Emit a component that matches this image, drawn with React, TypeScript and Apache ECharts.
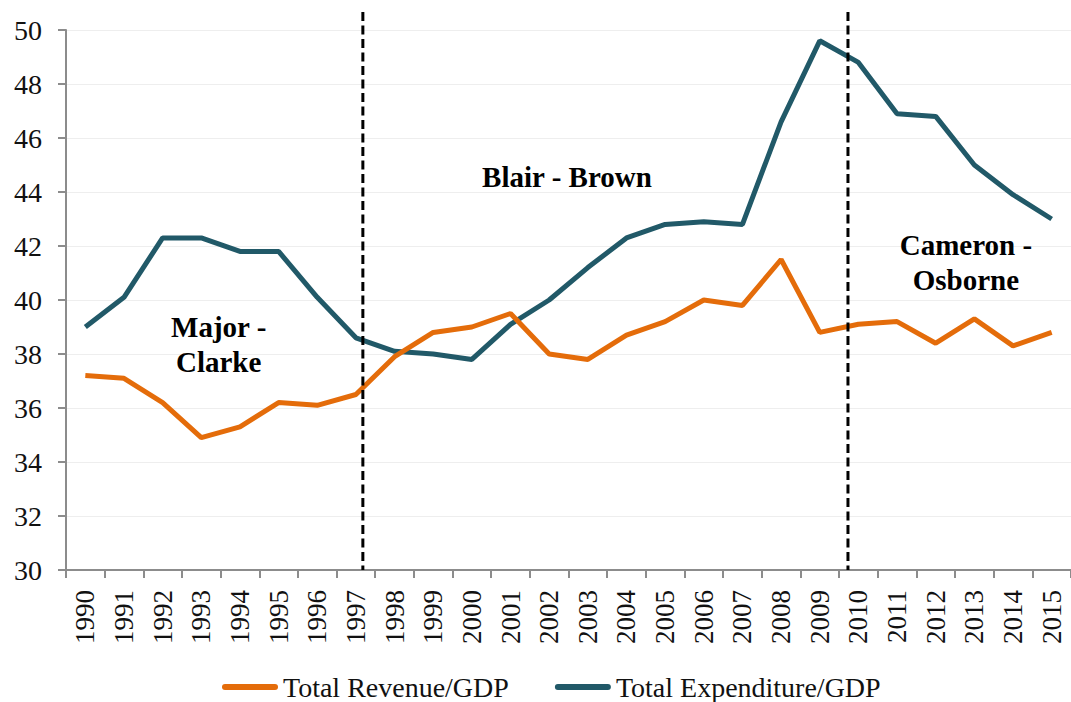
import React, { useEffect, useRef } from "react";
import * as echarts from "echarts";

const years = [
  "1990", "1991", "1992", "1993", "1994", "1995", "1996", "1997", "1998", "1999",
  "2000", "2001", "2002", "2003", "2004", "2005", "2006", "2007", "2008", "2009",
  "2010", "2011", "2012", "2013", "2014", "2015",
];

const revenue = [
  37.2, 37.1, 36.2, 34.9, 35.3, 36.2, 36.1, 36.5, 37.9, 38.8,
  39.0, 39.5, 38.0, 37.8, 38.7, 39.2, 40.0, 39.8, 41.5, 38.8,
  39.1, 39.2, 38.4, 39.3, 38.3, 38.8,
];

const expenditure = [
  39.0, 40.1, 42.3, 42.3, 41.8, 41.8, 40.1, 38.6, 38.1, 38.0,
  37.8, 39.1, 40.0, 41.2, 42.3, 42.8, 42.9, 42.8, 46.6, 49.6,
  48.8, 46.9, 46.8, 45.0, 43.9, 43.0,
];

const seriesNames = ["Total Revenue/GDP", "Total Expenditure/GDP"];
const yTicks = { min: 30, max: 50, interval: 2 };

// Government period dividers: category index (fractional) where dashed line sits
const dividers = [7.18, 19.73];
// Annotation labels: [text, category index (fractional), y value]
const annotations: [string, number, number][] = [
  ["Major -\nClarke", 3.45, 38.35],
  ["Blair - Brown", 12.46, 44.56],
  ["Cameron -\nOsborne", 22.78, 41.38],
];

const FONT = "'Liberation Serif', 'Times New Roman', serif";
const ORANGE = "#E46C0A";
const TEAL = "#215968";

export default function App() {
  const ref = useRef<HTMLDivElement>(null);

  useEffect(() => {
    if (!ref.current) return;
    const chart = echarts.init(ref.current, null, { renderer: "svg" });
    const legendIcon = "path://M3,0 L53,0 A3,3 0 0 1 53,6 L3,6 A3,3 0 0 1 3,0 Z";
    chart.setOption({
      animation: false,
      backgroundColor: "#ffffff",
      textStyle: { fontFamily: FONT },
      grid: { left: 66, right: 0, top: 30, bottom: 132, containLabel: false },
      legend: {
        left: 222,
        top: 673,
        padding: 0,
        itemWidth: 56,
        itemHeight: 6,
        itemGap: 46,
        textStyle: { fontFamily: FONT, fontSize: 28, lineHeight: 28, color: "#111" },
        data: [
          { name: seriesNames[0], icon: legendIcon },
          { name: seriesNames[1], icon: legendIcon },
        ],
      },
      xAxis: {
        type: "category",
        data: years,
        boundaryGap: true,
        axisLine: { lineStyle: { color: "#8C8C8C", width: 2 } },
        axisTick: { show: true, interval: 0, length: 8, lineStyle: { color: "#8C8C8C", width: 2 } },
        axisLabel: {
          interval: 0,
          rotate: 90,
          margin: 20,
          fontFamily: FONT,
          fontSize: 27,
          color: "#111",
        },
        splitLine: { show: false },
      },
      yAxis: {
        type: "value",
        min: yTicks.min,
        max: yTicks.max,
        interval: yTicks.interval,
        axisLine: { show: true, lineStyle: { color: "#8C8C8C", width: 2 } },
        axisTick: { show: true, length: 8, lineStyle: { color: "#8C8C8C", width: 2 } },
        axisLabel: { margin: 24, fontFamily: FONT, fontSize: 28, color: "#111" },
        splitLine: { show: true, lineStyle: { color: "#EEEEEE", width: 1 } },
      },
      series: [
        {
          name: seriesNames[0],
          type: "line",
          data: revenue,
          symbol: "none",
          color: ORANGE,
          lineStyle: { color: ORANGE, width: 5 },
          z: 3,
        },
        {
          name: seriesNames[1],
          type: "line",
          data: expenditure,
          symbol: "none",
          color: TEAL,
          lineStyle: { color: TEAL, width: 5 },
          z: 2,
        },
      ],
    });

    const px = (idx: number, v: number) => {
      const i0 = Math.floor(idx);
      const f = idx - i0;
      const a = chart.convertToPixel({ gridIndex: 0 }, [i0, v]) as number[];
      const b = chart.convertToPixel({ gridIndex: 0 }, [i0 + 1, v]) as number[];
      return [a[0] + (b[0] - a[0]) * f, a[1]];
    };

    const graphics: any[] = [];
    dividers.forEach((d) => {
      const top = px(d, yTicks.max);
      const bottom = px(d, yTicks.min);
      graphics.push({
        type: "line",
        shape: { x1: top[0], y1: top[1] - 18, x2: bottom[0], y2: bottom[1] },
        style: { stroke: "#000", lineWidth: 3, lineDash: [9, 4.5] },
        z: 10,
      });
    });
    annotations.forEach(([text, idx, v]) => {
      const p = px(idx, v);
      graphics.push({
        type: "text",
        x: p[0],
        y: p[1],
        style: {
          text,
          fontFamily: FONT,
          fontWeight: "bold",
          fontSize: 29,
          lineHeight: 35,
          fill: "#000",
          align: "center",
          verticalAlign: "middle",
        },
        z: 10,
      });
    });
    chart.setOption({ graphic: graphics });

    return () => chart.dispose();
  }, []);

  return (
    <div
      ref={ref}
      style={{ position: "fixed", left: 0, top: 0, width: 1071, height: 702 }}
    />
  );
}
